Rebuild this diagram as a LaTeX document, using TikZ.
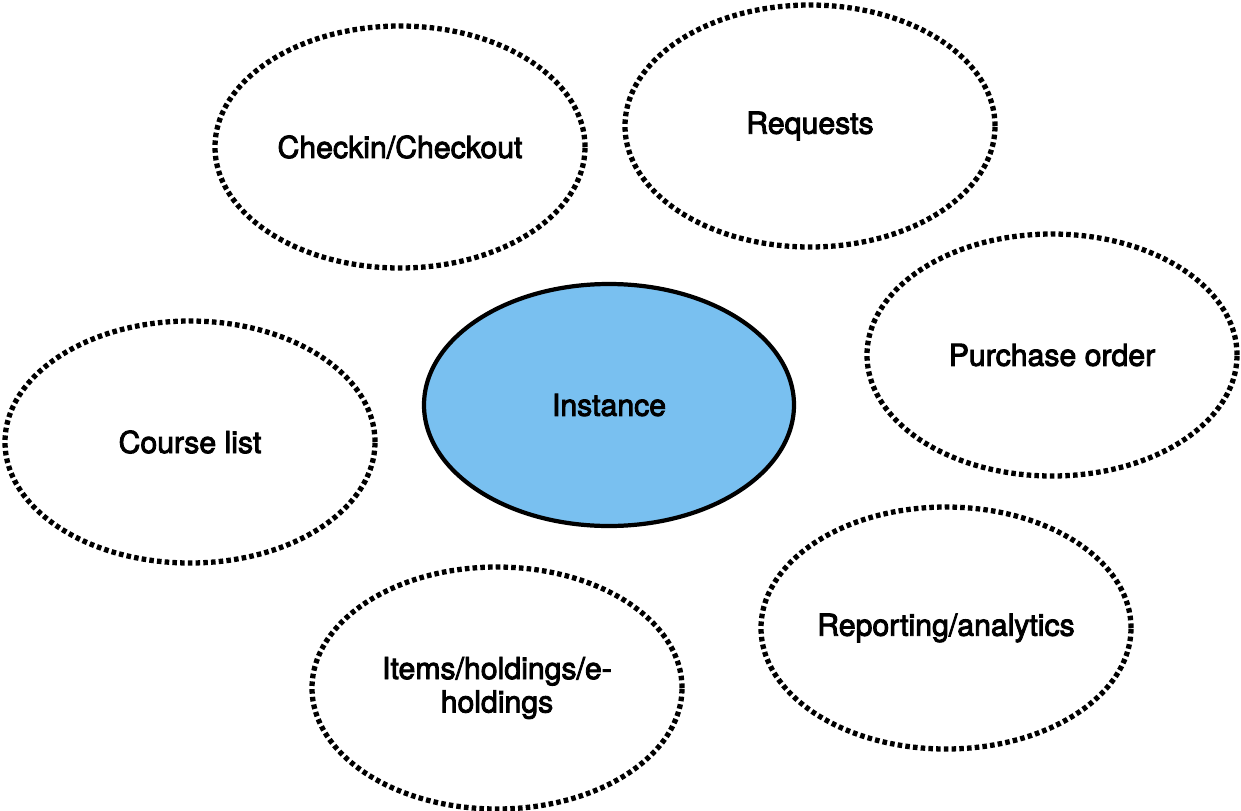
\documentclass[tikz,border=0pt]{standalone}
\usepackage{fontspec}
\newfontfamily\labelfont{TeX Gyre Heros}[FakeBold=3]
\usepackage{tikz}
\usetikzlibrary{positioning,shapes.geometric}
\definecolor{instblue}{RGB}{121,192,240}
\tikzset{
    topic/.style = {
        draw,
        shape=ellipse,
        minimum width=7.4cm,
        minimum height=4.84cm,
        inner sep=0pt,
        line width=3pt,
        dash pattern=on 2.6pt off 1.8pt,
        align=center,
        font=\labelfont\fontsize{17.2}{19}\selectfont
    },
    core/.style = {
        topic,
        solid,
        fill=instblue,
        line width=2.4pt
    },
}
\begin{document}
\begin{tikzpicture}
        \useasboundingbox (0,0) rectangle (24.82,-16.22);
        \node[core] (inst) at (12.18,-8.10) {Instance};

        \node[topic] (checkin) at (8.00,-2.94) {Checkin/Checkout};
        \node[topic] (requests) at (16.20,-2.52) {Requests};
        \node[topic] (purchase) at (21.04,-7.10) {Purchase order};
        \node[topic] (course) at (3.80,-8.84) {Course list};
        \node[topic] (items) at (9.94,-13.76) {Items/holdings/e-\\holdings};
        \node[topic] (report) at (18.92,-12.56) {Reporting/analytics};
    \end{tikzpicture}
\end{document}
